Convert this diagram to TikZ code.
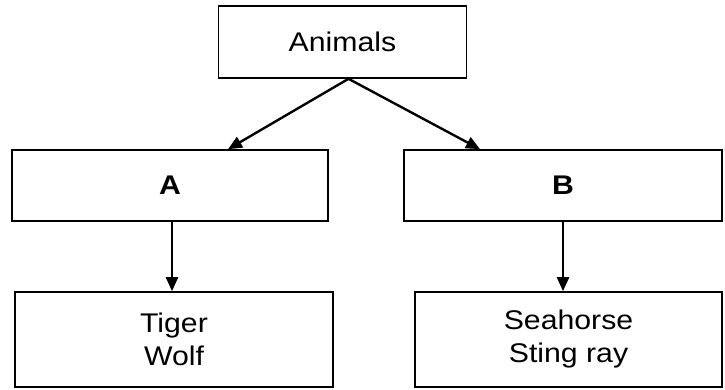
\documentclass[tikz,border=0pt]{standalone}
\usepackage{fontspec}
\setmainfont{Liberation Sans}[FakeStretch=1.12]
\usetikzlibrary{arrows.meta}
\begin{document}
\begin{tikzpicture}[x=1pt,y=-1pt,
  box/.style={draw=black,line width=1.6pt,rectangle,inner sep=0pt,align=center,
    font=\fontsize{27}{33}\selectfont},
  conn/.style={line width=2.4pt,-{Triangle[length=14pt,width=12pt]}}]
\useasboundingbox (0,0) rectangle (725,390);
\node[box,minimum width=248pt,minimum height=72pt] (top) at (342.5,42) {Animals};
\node[box,minimum width=316pt,minimum height=71pt,font=\fontsize{27}{33}\selectfont\bfseries] (A) at (170,185.5) {A};
\node[box,minimum width=318pt,minimum height=71pt,font=\fontsize{27}{33}\selectfont\bfseries] (B) at (563,185.5) {B};
\node[box,minimum width=318pt,minimum height=95pt] (L) at (174,339.5) {Tiger\\Wolf};
\node[box,minimum width=307pt,minimum height=95pt] (R) at (568.5,339.5) {Seahorse\\Sting ray};
\draw[conn] ([xshift=6pt]top.south) -- ([xshift=58pt]A.north);
\draw[conn] ([xshift=6pt]top.south) -- ([xshift=-83pt]B.north);
\draw[conn] ([xshift=2pt]A.south) -- ([xshift=2pt]A.south |- L.north);
\draw[conn] (B.south) -- (B.south |- R.north);
\end{tikzpicture}
\end{document}
